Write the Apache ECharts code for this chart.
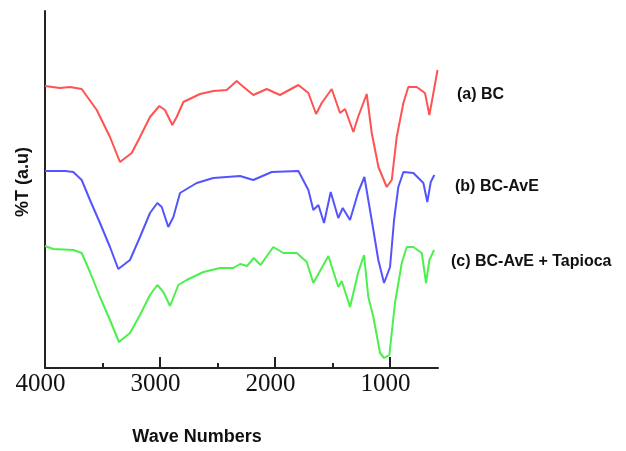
<!DOCTYPE html>
<html lang="en">
<head>
    <meta charset="UTF-8">
    <title>FTIR spectra</title>
    <script src="https://cdn.jsdelivr.net/npm/echarts@6/dist/echarts.min.js"></script>
    <style type="text/css">
        html, body { margin: 0; padding: 0; background: #fff; }
    </style>
</head>
<body>
<div id="main" style="width: 626px;height:451px;"></div>
<script>
    // wave numbers (cm-1) and %T (arbitrary units)
    const bc_wave = [4000, 3870, 3783, 3681, 3550, 3435, 3348, 3246, 3174, 3087, 3006, 2957, 2893, 2855, 2797, 2652, 2537, 2420, 2333, 2304, 2189, 2130, 2072, 1957, 1797, 1710, 1643, 1594, 1507, 1435, 1391, 1319, 1278, 1203, 1159, 1101, 1029, 985, 942, 884, 841, 768, 696, 658, 623, 587];
    const bc_t = [282, 280, 281, 279, 258, 231, 206, 215, 231, 251, 262, 258, 243, 251, 266, 274, 277, 278, 287, 284, 273, 276, 279, 273, 283, 275, 254, 265, 279, 255, 259, 236, 251, 274, 235, 201, 181, 188, 231, 265, 281, 281, 275, 253, 275, 298];

    const ave_wave = [4000, 3826, 3754, 3681, 3609, 3522, 3435, 3363, 3261, 3174, 3087, 3023, 2985, 2928, 2884, 2826, 2681, 2537, 2304, 2189, 2029, 1797, 1710, 1667, 1623, 1574, 1516, 1450, 1411, 1348, 1276, 1223, 1189, 1145, 1102, 1052, 1000, 965, 928, 884, 797, 710, 676, 646, 615];
    const ave_t = [197, 197, 196, 188, 168, 145, 121, 99, 108, 131, 155, 165, 161, 141, 151, 175, 185, 190, 192, 188, 196, 197, 178, 158, 163, 145, 176, 150, 160, 148, 176, 191, 168, 138, 108, 85, 101, 148, 181, 196, 195, 185, 166, 186, 193];

    const tap_wave = [4000, 3928, 3754, 3681, 3609, 3522, 3435, 3357, 3261, 3174, 3087, 3023, 2971, 2913, 2841, 2768, 2623, 2478, 2363, 2304, 2243, 2185, 2126, 2015, 1928, 1811, 1724, 1667, 1536, 1450, 1420, 1348, 1276, 1226, 1189, 1145, 1087, 1052, 1006, 957, 898, 855, 797, 724, 687, 658, 617];
    const tap_t = [122, 119, 118, 115, 96, 71, 48, 26, 35, 53, 73, 83, 76, 62, 83, 88, 96, 100, 100, 104, 102, 110, 103, 121, 115, 115, 106, 85, 112, 81, 87, 61, 96, 113, 71, 51, 15, 10, 13, 65, 105, 121, 121, 115, 85, 108, 118];

    const major_ticks = [4000, 3000, 2000, 1000];
    const minor_ticks = [3500, 2500, 1500];
    const series_names = ['(a) BC', '(b) BC-AvE', '(c) BC-AvE + Tapioca'];
    const colors = ['#ff5252', '#5454ff', '#4cf04c'];

    function pairs(xs, ys) {
        let out = [];
        for (let i = 0; i < xs.length; i++) out.push([xs[i], ys[i]]);
        return out;
    }

    var myChart = echarts.init(document.getElementById('main'));

    const label_font = 'bold 16px "Liberation Sans", Arial, sans-serif';

    var option = {
        animation: false,
        grid: { left: 45, right: 188, top: 11, bottom: 83 },
        xAxis: [{
            type: 'value',
            inverse: true,
            min: 583,
            max: 4000,
            axisLine: { show: true, lineStyle: { color: '#222', width: 2 } },
            axisTick: {
                show: true, inside: true, length: 11,
                customValues: major_ticks,
                lineStyle: { color: '#222', width: 2 }
            },
            axisLabel: {
                customValues: major_ticks,
                showMaxLabel: true,
                formatter: function (v) { return String(v); },
                fontFamily: '"Liberation Serif", serif',
                fontSize: 25,
                color: '#111',
                margin: 4,
                padding: [0, 9, 0, 0]
            },
            splitLine: { show: false }
        }, {
            type: 'value',
            inverse: true,
            position: 'bottom',
            min: 583,
            max: 4000,
            axisLine: { show: false },
            axisTick: {
                show: true, inside: true, length: 5,
                customValues: minor_ticks,
                lineStyle: { color: '#222', width: 2 }
            },
            axisLabel: { show: false },
            splitLine: { show: false }
        }],
        yAxis: {
            type: 'value',
            min: 0,
            max: 357,
            axisLine: { show: true, lineStyle: { color: '#222', width: 2 } },
            axisTick: { show: false },
            axisLabel: { show: false },
            splitLine: { show: false }
        },
        series: [
            { name: series_names[0], data: pairs(bc_wave, bc_t) },
            { name: series_names[1], data: pairs(ave_wave, ave_t) },
            { name: series_names[2], data: pairs(tap_wave, tap_t) }
        ].map((s, i) => Object.assign({
            type: 'line',
            showSymbol: false,
            smooth: false,
            lineStyle: { color: colors[i], width: 2 },
            itemStyle: { color: colors[i] }
        }, s)),
        graphic: [
            { type: 'text', x: 457, y: 95, style: { text: series_names[0], font: label_font, fill: '#111', textVerticalAlign: 'middle' } },
            { type: 'text', x: 455, y: 187, style: { text: series_names[1], font: label_font, fill: '#111', textVerticalAlign: 'middle' } },
            { type: 'text', x: 451, y: 262, style: { text: series_names[2], font: label_font, fill: '#111', textVerticalAlign: 'middle' } },
            { type: 'text', x: 197, y: 437, style: { text: 'Wave Numbers', font: 'bold 18px "Liberation Sans", Arial, sans-serif', fill: '#111', textAlign: 'center', textVerticalAlign: 'middle' } },
            { type: 'text', x: 23, y: 182, rotation: Math.PI / 2, style: { text: '%T (a.u)', font: 'bold 18px "Liberation Sans", Arial, sans-serif', fill: '#111', textAlign: 'center', textVerticalAlign: 'middle' } }
        ]
    };

    myChart.setOption(option);
</script>
</body>
</html>
